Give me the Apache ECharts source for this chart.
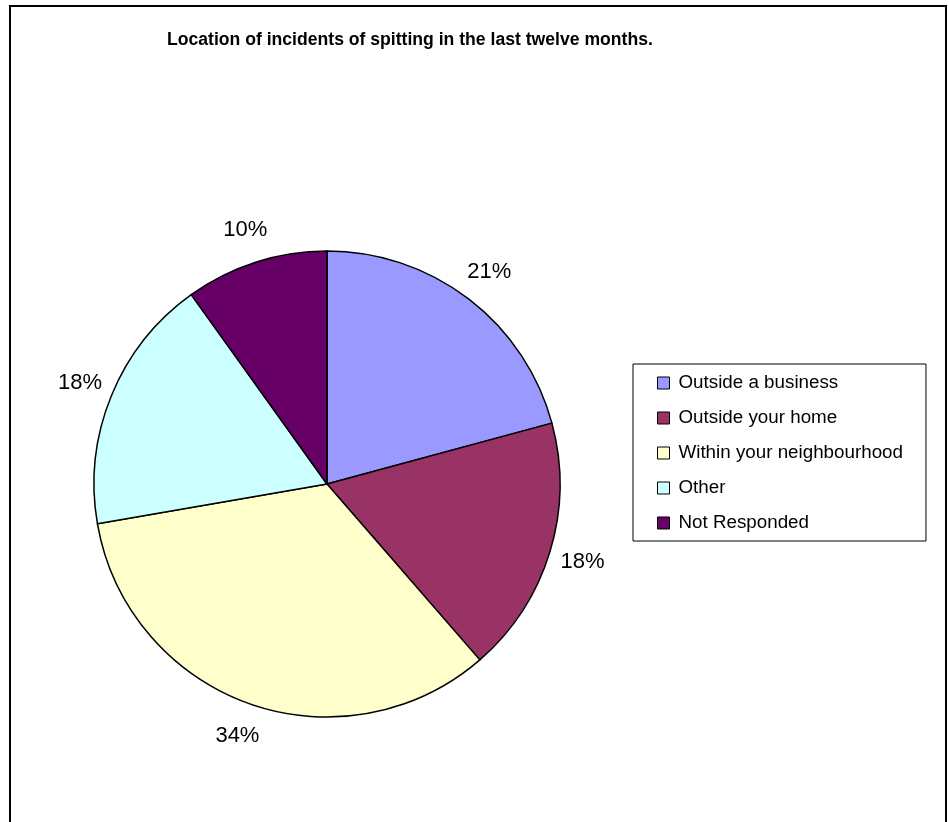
<!DOCTYPE html>
<html><head><meta charset="utf-8">
<script src="https://cdn.jsdelivr.net/npm/echarts@6/dist/echarts.min.js"></script>
<style>html,body{margin:0;padding:0;background:#fff}#c{width:949px;height:822px}</style>
</head><body><div id="c"></div>
<script>
const categories = ['Outside a business','Outside your home','Within your neighbourhood','Other','Not Responded'];
const values = [21, 18, 34, 18, 10];
const colors = ['#9999FF','#993366','#FFFFCC','#CCFFFF','#660066'];
const titleText = 'Location of incidents of spitting in the last twelve months.';

const data = categories.map((n,i)=>({name:n, value:values[i], itemStyle:{color:colors[i]}}));
const font = '"Liberation Sans", Arial, sans-serif';
const chart = echarts.init(document.getElementById('c'), null, {renderer:'canvas'});
chart.setOption({
  animation:false,
  backgroundColor:'#fff',
  title:{text:titleText, left:167, top:31, padding:0,
    textStyle:{fontFamily:font, fontSize:17.6, fontWeight:'bold', color:'#000'}},
  graphic:[{type:'rect', shape:{x:10,y:6,width:936,height:900}, style:{fill:'none', stroke:'#000', lineWidth:2}, silent:true}],
  legend:{orient:'vertical', left:633, top:364, data:categories,
    backgroundColor:'#fff', borderColor:'#000', borderWidth:1, padding:[9,23,8,24],
    itemWidth:12, itemHeight:12, itemGap:15, icon:'rect',
    itemStyle:{borderColor:'#000', borderWidth:1},
    textStyle:{fontFamily:font, fontSize:18.8, color:'#000', lineHeight:20, padding:[0,0,0,4]},
    selectedMode:false},
  series:[
    {type:'pie', center:[327,484], radius:[0,233], startAngle:90, clockwise:true,
     data:data, silent:true, label:{show:false}, labelLine:{show:false},
     itemStyle:{borderColor:'#000', borderWidth:1.5}, emphasis:{disabled:true}},
    {type:'pie', center:[327,484], radius:[254,274], startAngle:90, clockwise:true,
     data:categories.map((n,i)=>({name:n, value:values[i]})), silent:true, legendHoverLink:false,
     itemStyle:{color:'rgba(0,0,0,0)', borderWidth:0}, emphasis:{disabled:true},
     label:{show:true, position:'inside', fontFamily:font, fontSize:22, color:'#000',
       formatter:p=>Math.round(p.percent)+'%'},
     labelLine:{show:false}}
  ]
});
</script></body></html>
